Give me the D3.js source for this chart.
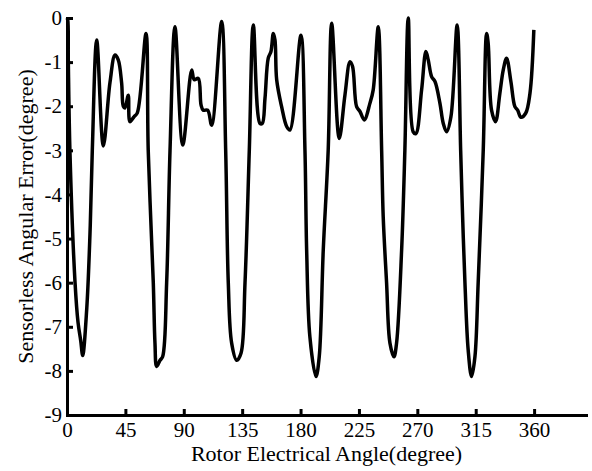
<!DOCTYPE html>
<html lang="en">
<head>
<meta charset="UTF-8">
<title>Sensorless Angular Error</title>
<style>
  body { margin: 0; background: #fff; }
  svg { display: block; }
  .axis text { font-family: "Liberation Serif", "Times New Roman", serif; font-size: 21px; fill: #000; }
  .axis path, .axis line { stroke: #000; stroke-width: 3px; }
  .label { font-family: "Liberation Serif", "Times New Roman", serif; font-size: 22px; fill: #000; }
</style>
<script src="https://d3js.org/d3.v7.min.js"></script>
</head>
<body>
<svg width="592" height="471"></svg>
<script>
// rotor angle (degree) and angular error (degree)
const angle = [
  0, 0.6, 1.0, 2.3, 6.2, 8.5, 10.6, 12.1, 15.2, 17.7, 19.5, 22.9,
  28.0, 33.1, 37.0, 39.5, 42.1, 43.4, 44.7, 47.2, 48.5, 51.6, 54.2, 60.9,
  62.6, 66.5, 67.8, 69.1, 71.7, 73.7, 76.8, 79.4, 83.2,
  89.2, 96.1, 98.1, 101.2, 103.3, 105.0, 108.4, 111.5, 119.2,
  122.3, 124.3, 126.9, 130.8, 134.1, 137.2, 140.5, 143.6,
  148.7, 150.5, 152.6, 155.1, 157.2, 159.0, 160.3, 161.6, 165.4, 169.3, 171.8, 180.3,
  183.4, 184.7, 187.2, 191.9, 194.4, 197.5, 201.3, 204.0,
  209.8, 214.2, 218.1, 220.1, 223.2, 225.8, 229.1, 233.5, 236.0, 239.9,
  242.5, 243.7, 246.3, 248.9, 252.0, 254.0, 257.9, 260.4, 263.0,
  266.8, 268.9, 273.3, 276.6, 278.4, 281.0, 283.6, 287.4, 290.0, 292.6, 295.9, 300.7,
  303.4, 304.9, 306.7, 309.2, 311.8, 314.4, 316.9, 320.8, 323.4, 324.6,
  327.2, 330.3, 333.6, 336.2, 338.8, 342.1, 345.2, 347.3, 349.8, 353.5, 356.8, 359.8
];
const error = [
  0, -0.05, -0.95, -3.06, -6.0, -6.9, -7.32, -7.65, -6.6, -4.9, -3.0, -0.5,
  -2.9, -1.47, -0.84, -0.95, -1.47, -2.0, -2.04, -1.75, -2.35, -2.24, -2.15, -0.35,
  -3.0, -6.0, -7.37, -7.9, -7.76, -7.68, -6.0, -3.0, -0.2,
  -2.88, -1.18, -1.4, -1.37, -1.97, -2.09, -2.09, -2.43, -0.08,
  -3.0, -6.0, -7.37, -7.76, -7.6, -6.0, -3.0, -0.16,
  -2.39, -2.39, -1.82, -0.91, -0.76, -0.35, -0.5, -1.4, -2.01, -2.46, -2.54, -0.39,
  -3.0, -5.26, -7.23, -8.13, -7.68, -5.26, -3.0, -0.12,
  -2.73, -1.75, -0.99, -1.1, -2.01, -2.12, -2.31, -1.93, -1.63, -0.2,
  -3.0, -4.5, -6.0, -7.37, -7.68, -7.37, -5.26, -3.0, 0.0,
  -2.58, -2.62, -1.63, -0.76, -0.95, -1.33, -1.44, -1.93, -2.39, -2.58, -2.24, -0.16,
  -3.0, -4.5, -6.0, -7.53, -8.13, -7.68, -6.0, -3.0, -0.35, -0.57,
  -2.09, -2.35, -1.71, -1.18, -0.91, -1.44, -2.01, -2.09, -2.25, -2.16, -1.71, -0.27
];
const xTicks = [0, 45, 90, 135, 180, 225, 270, 315, 360];
const yTicks = [0, -1, -2, -3, -4, -5, -6, -7, -8, -9];

const svg = d3.select("svg");
const margin = { left: 67, right: 6, top: 18, bottom: 56 };
const width = +svg.attr("width");
const height = +svg.attr("height");

const x = d3.scaleLinear().domain([0, 400]).range([margin.left, width - margin.right]);
const y = d3.scaleLinear().domain([-9, 0]).range([height - margin.bottom, margin.top]);

svg.append("g")
    .attr("class", "axis")
    .attr("transform", `translate(0,${y(-9)})`)
    .call(d3.axisBottom(x).tickValues(xTicks).tickSizeInner(-6).tickSizeOuter(0)
        .tickPadding(7).tickFormat(d => String(d)));

svg.append("g")
    .attr("class", "axis")
    .attr("transform", `translate(${x(0)},0)`)
    .call(d3.axisLeft(y).tickValues(yTicks).tickSizeInner(-6).tickSizeOuter(0)
        .tickPadding(5).tickFormat(d => String(d)));

svg.selectAll(".axis path").attr("stroke-linecap", "square");

const points = angle.map((a, i) => [a, error[i]]);

svg.append("path")
    .datum(points)
    .attr("fill", "none")
    .attr("stroke", "#000")
    .attr("stroke-width", 3.5)
    .attr("stroke-linejoin", "round")
    .attr("d", d3.line()
        .x(d => x(d[0]))
        .y(d => y(d[1]))
        .curve(d3.curveCatmullRom.alpha(0.5)));

svg.append("text")
    .attr("class", "label")
    .attr("x", (x(0) + x(400)) / 2)
    .attr("y", 461)
    .attr("text-anchor", "middle")
    .text("Rotor Electrical Angle(degree)");

svg.append("text")
    .attr("class", "label")
    .attr("transform", `translate(33,${(y(0) + y(-9)) / 2}) rotate(-90)`)
    .attr("text-anchor", "middle")
    .text("Sensorless Angular Error(degree)");
</script>
</body>
</html>
